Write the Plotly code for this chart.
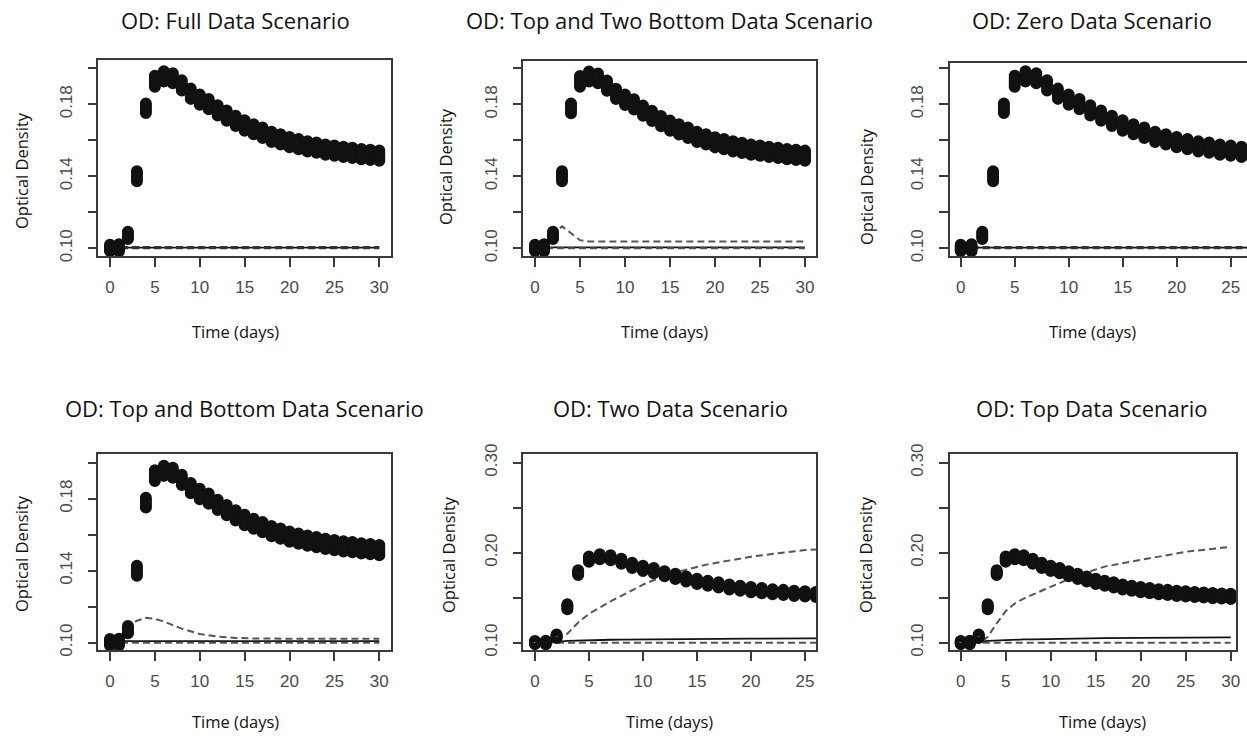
import plotly.graph_objects as go

# ---------------- data ----------------
days = list(range(31))
od_rep_high = [0.1020, 0.1022, 0.1092, 0.1428, 0.1805, 0.1958, 0.1983, 0.1972, 0.1933, 0.1887,
               0.1855, 0.1829, 0.1794, 0.1765, 0.1736, 0.1711, 0.1689, 0.1671, 0.1648, 0.1634,
               0.1618, 0.1607, 0.1595, 0.1587, 0.1577, 0.1571, 0.1564, 0.1559, 0.1552, 0.1548, 0.1543]
od_rep_midhigh = [0.1010, 0.1012, 0.1083, 0.1414, 0.1792, 0.1943, 0.1969, 0.1958, 0.1919, 0.1872,
                  0.1840, 0.1815, 0.1780, 0.1751, 0.1722, 0.1697, 0.1675, 0.1656, 0.1634, 0.1620,
                  0.1604, 0.1593, 0.1581, 0.1572, 0.1563, 0.1556, 0.1550, 0.1545, 0.1538, 0.1533, 0.1529]
od_rep_mid = [0.1000, 0.1002, 0.1072, 0.1400, 0.1778, 0.1928, 0.1955, 0.1945, 0.1905, 0.1858,
              0.1826, 0.1800, 0.1766, 0.1736, 0.1708, 0.1682, 0.1661, 0.1642, 0.1620, 0.1605,
              0.1590, 0.1578, 0.1567, 0.1558, 0.1549, 0.1542, 0.1536, 0.1530, 0.1524, 0.1519, 0.1515]
od_rep_midlow = [0.0992, 0.0993, 0.1062, 0.1386, 0.1764, 0.1913, 0.1941, 0.1931, 0.1890, 0.1844,
                 0.1811, 0.1786, 0.1751, 0.1722, 0.1693, 0.1667, 0.1647, 0.1627, 0.1605, 0.1591,
                 0.1575, 0.1564, 0.1552, 0.1544, 0.1535, 0.1528, 0.1521, 0.1516, 0.1510, 0.1505, 0.1500]
od_rep_low = [0.0985, 0.0984, 0.1052, 0.1372, 0.1751, 0.1898, 0.1927, 0.1917, 0.1876, 0.1830,
              0.1797, 0.1772, 0.1737, 0.1708, 0.1679, 0.1653, 0.1633, 0.1613, 0.1591, 0.1577,
              0.1561, 0.1550, 0.1538, 0.1530, 0.1520, 0.1514, 0.1507, 0.1502, 0.1495, 0.1491, 0.1486]

t_model = [0, 1, 2, 2.5, 3, 4, 5, 6, 7, 8, 10, 12, 14, 16, 20, 25, 30]

full_solid = [0.1003] * 17
full_dash = [0.1004] * 17

tb2_solid = [0.1005] * 17
tb2_dash_hump = [0.1000, 0.1015, 0.1065, 0.1100, 0.1122, 0.1082, 0.1045, 0.1037, 0.1037, 0.1037,
                 0.1037, 0.1037, 0.1037, 0.1037, 0.1037, 0.1037, 0.1037]
tb2_dash_low = [0.1000] * 17

zero_solid = [0.1003] * 17
zero_dash = [0.1004] * 17

tb_solid = [0.1008] * 17
tb_dash_hump = [0.1000, 0.1025, 0.1080, 0.1105, 0.1122, 0.1138, 0.1132, 0.1118, 0.1097, 0.1078,
                0.1048, 0.1033, 0.1026, 0.1023, 0.1022, 0.1022, 0.1022]
tb_dash_low = [0.1000] * 17

two_solid = [0.1000, 0.1003, 0.1010, 0.1015, 0.1020, 0.1025, 0.1029, 0.1031, 0.1033, 0.1035,
             0.1038, 0.1040, 0.1042, 0.1044, 0.1046, 0.1048, 0.1050]
two_dash_rise = [0.1000, 0.1003, 0.1035, 0.1065, 0.1100, 0.1225, 0.1320, 0.1390, 0.1460, 0.1520,
                 0.1645, 0.1745, 0.1812, 0.1870, 0.1956, 0.2030, 0.2060]
two_dash_low = [0.1000] * 17

top_solid = [0.1000, 0.1003, 0.1010, 0.1015, 0.1020, 0.1026, 0.1030, 0.1033, 0.1036, 0.1038,
             0.1042, 0.1045, 0.1048, 0.1050, 0.1053, 0.1056, 0.1059]
top_dash_rise = [0.1000, 0.1002, 0.1008, 0.1025, 0.1065, 0.1215, 0.1350, 0.1435, 0.1490, 0.1535,
                 0.1620, 0.1705, 0.1780, 0.1845, 0.1920, 0.2010, 0.2065]
top_dash_low = [0.1000] * 17

titles = ["OD: Full Data Scenario", "OD: Top and Two Bottom Data Scenario", "OD: Zero Data Scenario",
          "OD: Top and Bottom Data Scenario", "OD: Two Data Scenario", "OD: Top Data Scenario"]
x_tick_vals = [0, 5, 10, 15, 20, 25, 30]
y_ticks_small = [0.10, 0.12, 0.14, 0.16, 0.18, 0.20]
y_ticktext_small = ["0.10", "", "0.14", "", "0.18", ""]
y_ticks_large = [0.10, 0.15, 0.20, 0.25, 0.30]
y_ticktext_large = ["0.10", "", "0.20", "", "0.30"]

# ---------------- layout geometry (pixels) ----------------
W, H = 1247, 738
panels = [
    dict(box=(98.3, 390.7, 60, 256), xr=(-1.30, 31.27), yr=(0.0957, 0.2046), big=False, rb=True,
         lines=[(full_solid, "solid"), (full_dash, "bolddash")]),
    dict(box=(523.3, 816, 60.7, 256), xr=(-1.30, 31.22), yr=(0.0957, 0.2043), big=False, rb=True,
         lines=[(tb2_solid, "solid"), (tb2_dash_low, "dash"), (tb2_dash_hump, "dash")]),
    dict(box=(950, 1247, 62.7, 256), xr=(-0.99, 26.51), yr=(0.0957, 0.2031), big=False, rb=False,
         lines=[(zero_solid, "solid"), (zero_dash, "bolddash")]),
    dict(box=(98.3, 390.7, 454.3, 650), xr=(-1.30, 31.27), yr=(0.0959, 0.2047), big=False, rb=True,
         lines=[(tb_solid, "solid"), (tb_dash_low, "dash"), (tb_dash_hump, "dash")]),
    dict(box=(523.3, 816, 454.3, 650), xr=(-1.08, 26.02), yr=(0.0919, 0.3093), big=True, rb=True,
         lines=[(two_solid, "solid"), (two_dash_low, "dash"), (two_dash_rise, "dash")]),
    dict(box=(950, 1236, 454.3, 650), xr=(-1.19, 30.59), yr=(0.0919, 0.3093), big=True, rb=True,
         lines=[(top_solid, "solid"), (top_dash_low, "dash"), (top_dash_rise, "dash")]),
]
title_pos = [(235, 20), (669, 20), (1092, 20), (244, 408), (670, 408), (1092, 408)]
xlab_pos = [(235, 331), (664, 331), (1092, 331), (235, 721), (669, 721), (1102, 721)]
ylab_pos = [(21, 171), (446, 167), (867, 186), (21, 554), (448, 555), (865, 555)]

line_styles = {
    "solid": dict(color="#111", width=1.8, dash="solid"),
    "dash": dict(color="#555", width=2.0, dash="7px,4px"),
    "bolddash": dict(color="#333", width=3.2, dash="7px,4px"),
}

fig = go.Figure()
tick_font = dict(family="Liberation Sans, Arial, sans-serif", size=17, color="#4a4a4a")
axis_color = "#3a3a3a"
label_font = dict(family="Open Sans, sans-serif", size=16.5, color="#111")

for i, p in enumerate(panels):
    n = "" if i == 0 else str(i + 1)
    xa, ya = "x" + n, "y" + n
    for vals, style in p["lines"]:
        fig.add_trace(go.Scatter(
            x=t_model, y=vals, mode="lines", xaxis=xa, yaxis=ya, showlegend=False,
            line=line_styles[style]))
    for reps in (od_rep_low, od_rep_midlow, od_rep_mid, od_rep_midhigh, od_rep_high):
        fig.add_trace(go.Scatter(
            x=days, y=reps, mode="markers", xaxis=xa, yaxis=ya, showlegend=False,
            marker=dict(symbol="circle-open", size=8, color="#111",
                        line=dict(width=4, color="#111"))))
    l, r, t, b = p["box"]
    fig.layout["xaxis" + n] = dict(
        domain=[l / W, r / W], range=list(p["xr"]), anchor=ya, automargin=False,
        showline=True, mirror=True, linecolor=axis_color, linewidth=1.6,
        ticks="outside", ticklen=9, tickwidth=1.5, tickcolor=axis_color,
        tickvals=x_tick_vals, ticktext=[str(v) for v in x_tick_vals],
        showgrid=False, zeroline=False, tickfont=tick_font, ticklabelstandoff=6)
    fig.layout["yaxis" + n] = dict(
        domain=[1 - b / H, 1 - t / H], range=list(p["yr"]), anchor=xa, automargin=False,
        showline=True, mirror=p["rb"], linecolor=axis_color, linewidth=1.6,
        ticks="outside", ticklen=9, tickwidth=1.5, tickcolor=axis_color,
        tickvals=y_ticks_large if p["big"] else y_ticks_small,
        ticktext=y_ticktext_large if p["big"] else y_ticktext_small,
        tickangle=-90, showgrid=False, zeroline=False, tickfont=tick_font,
        ticklabelstandoff=9)

annotations = []
for i in range(6):
    tx, ty = title_pos[i]
    annotations.append(dict(text=titles[i], x=tx / W, y=1 - ty / H, xref="paper", yref="paper",
                            showarrow=False, xanchor="center", yanchor="middle",
                            font=dict(family="Open Sans, sans-serif", size=22, color="#111")))
    lx, ly = xlab_pos[i]
    annotations.append(dict(text="Time (days)", x=lx / W, y=1 - ly / H, xref="paper", yref="paper",
                            showarrow=False, xanchor="center", yanchor="middle", font=label_font))
    yx, yy = ylab_pos[i]
    annotations.append(dict(text="Optical Density", x=yx / W, y=1 - yy / H, xref="paper", yref="paper",
                            showarrow=False, xanchor="center", yanchor="middle", textangle=-90,
                            font=label_font))

fig.update_layout(width=W, height=H, margin=dict(l=0, r=0, t=0, b=0, autoexpand=False),
                  paper_bgcolor="white", plot_bgcolor="white", annotations=annotations,
                  showlegend=False)

fig.write_html("out.html")
